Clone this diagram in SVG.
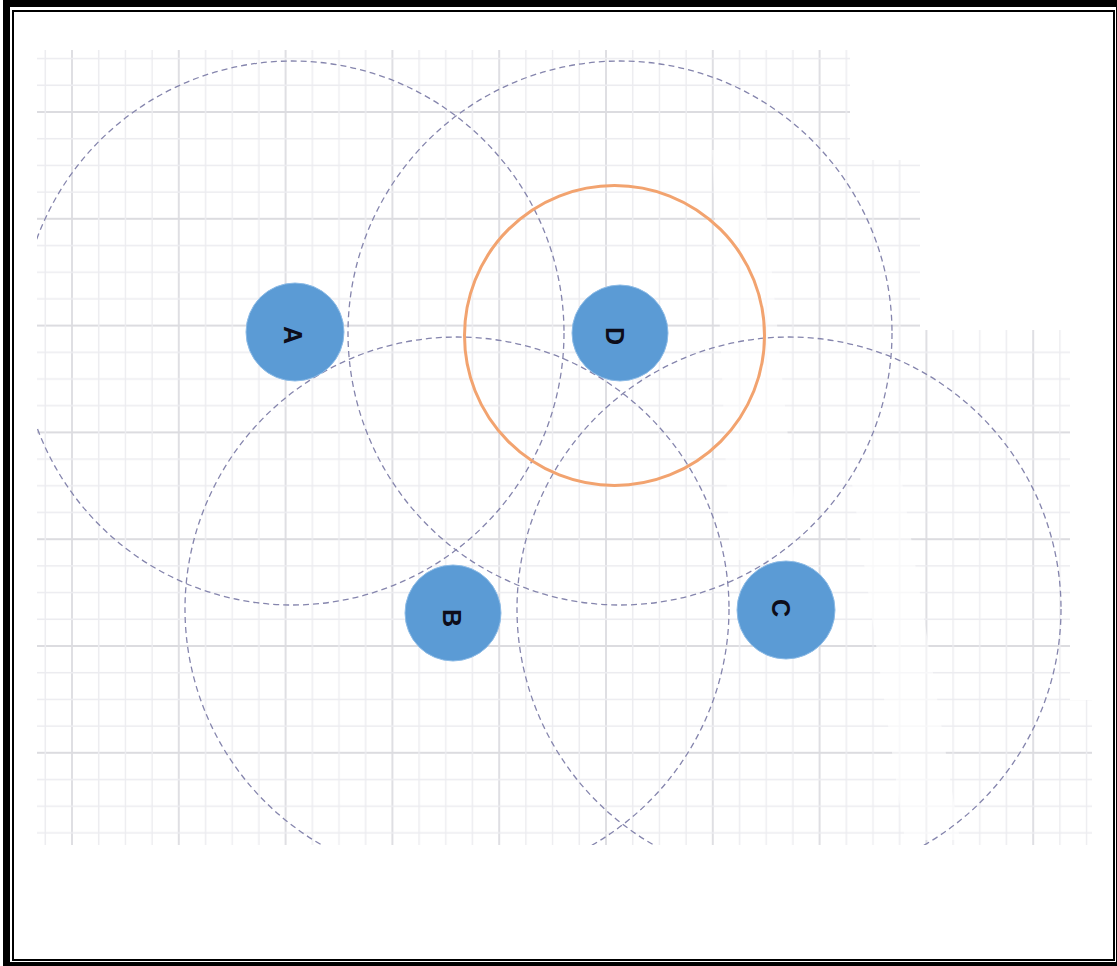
<svg xmlns="http://www.w3.org/2000/svg" width="1117" height="966" viewBox="0 0 1117 966">
  <style>
    .ring { fill: none; stroke: #8585ad; stroke-width: 1.3; stroke-dasharray: 6 4; }
    .node { fill: #5b9bd5; stroke: #8dbbe6; stroke-width: 1; }
    .lbl { font-family: "Liberation Sans", Arial, sans-serif; font-weight: bold; font-size: 25px; fill: #0d0d1a; text-anchor: middle; dominant-baseline: central; }
  </style>
  <defs>
    <pattern id="grid" patternUnits="userSpaceOnUse" x="71" y="111" width="106.8" height="106.8">
      <line x1="1" y1="0" x2="1" y2="106.8" stroke="#dcdce0" stroke-width="1.8"/>
      <line x1="0" y1="1" x2="106.8" y2="1" stroke="#dcdce0" stroke-width="1.8"/>
      <line x1="27.7" y1="0" x2="27.7" y2="106.8" stroke="#ececf0" stroke-width="1.4"/>
      <line x1="54.4" y1="0" x2="54.4" y2="106.8" stroke="#ececf0" stroke-width="1.4"/>
      <line x1="81.1" y1="0" x2="81.1" y2="106.8" stroke="#ececf0" stroke-width="1.4"/>
      <line x1="0" y1="27.7" x2="106.8" y2="27.7" stroke="#ececf0" stroke-width="1.4"/>
      <line x1="0" y1="54.4" x2="106.8" y2="54.4" stroke="#ececf0" stroke-width="1.4"/>
      <line x1="0" y1="81.1" x2="106.8" y2="81.1" stroke="#ececf0" stroke-width="1.4"/>
    </pattern>
    <clipPath id="gridClip">
      <polygon points="37,50 850,50 850,160 920,160 920,330 1070,330 1070,700 1092,700 1092,845 37,845"/>
    </clipPath>
    <clipPath id="ringClip">
      <rect x="37" y="0" width="1080" height="845"/>
    </clipPath>
  </defs>

  <rect x="0" y="0" width="1117" height="966" fill="#ffffff"/>

  <g id="frame" fill="none" stroke="#000000">
    <rect x="6.5" y="3.5" width="1113" height="962" stroke-width="7"/>
    <rect x="13" y="11" width="1101" height="949" stroke-width="2"/>
  </g>

  <g id="grid-paper">
    <rect x="37" y="50" width="1055" height="795" fill="url(#grid)" clip-path="url(#gridClip)"/>
    <polygon points="712,150 760,150 800,560 730,560" fill="#ffffff" opacity="0.55"/>
    <polygon points="850,470 900,470 960,840 905,840" fill="#ffffff" opacity="0.6"/>
  </g>

  <g id="ranges" clip-path="url(#ringClip)">
    <circle id="range-A" class="ring" cx="292" cy="333" r="272"/>
    <circle id="range-D" class="ring" cx="620" cy="333" r="272"/>
    <circle id="range-B" class="ring" cx="457" cy="609" r="272"/>
    <circle id="range-C" class="ring" cx="789" cy="609" r="272"/>
  </g>

  <g id="highlight">
    <circle cx="614.5" cy="335.5" r="150" fill="none" stroke="#f2a36f" stroke-width="3"/>
  </g>

  <g id="node-A">
    <circle class="node" cx="295" cy="332" r="49"/>
    <text class="lbl" x="293" y="335" transform="rotate(90 293 335)">A</text>
  </g>
  <g id="node-D">
    <circle class="node" cx="620" cy="333" r="48"/>
    <text class="lbl" x="615" y="336" transform="rotate(90 615 336)">D</text>
  </g>
  <g id="node-B">
    <circle class="node" cx="453" cy="613" r="48"/>
    <text class="lbl" x="452" y="618" transform="rotate(90 452 618)">B</text>
  </g>
  <g id="node-C">
    <circle class="node" cx="786" cy="610" r="49"/>
    <text class="lbl" x="781" y="608" transform="rotate(90 781 608)">C</text>
  </g>
</svg>
